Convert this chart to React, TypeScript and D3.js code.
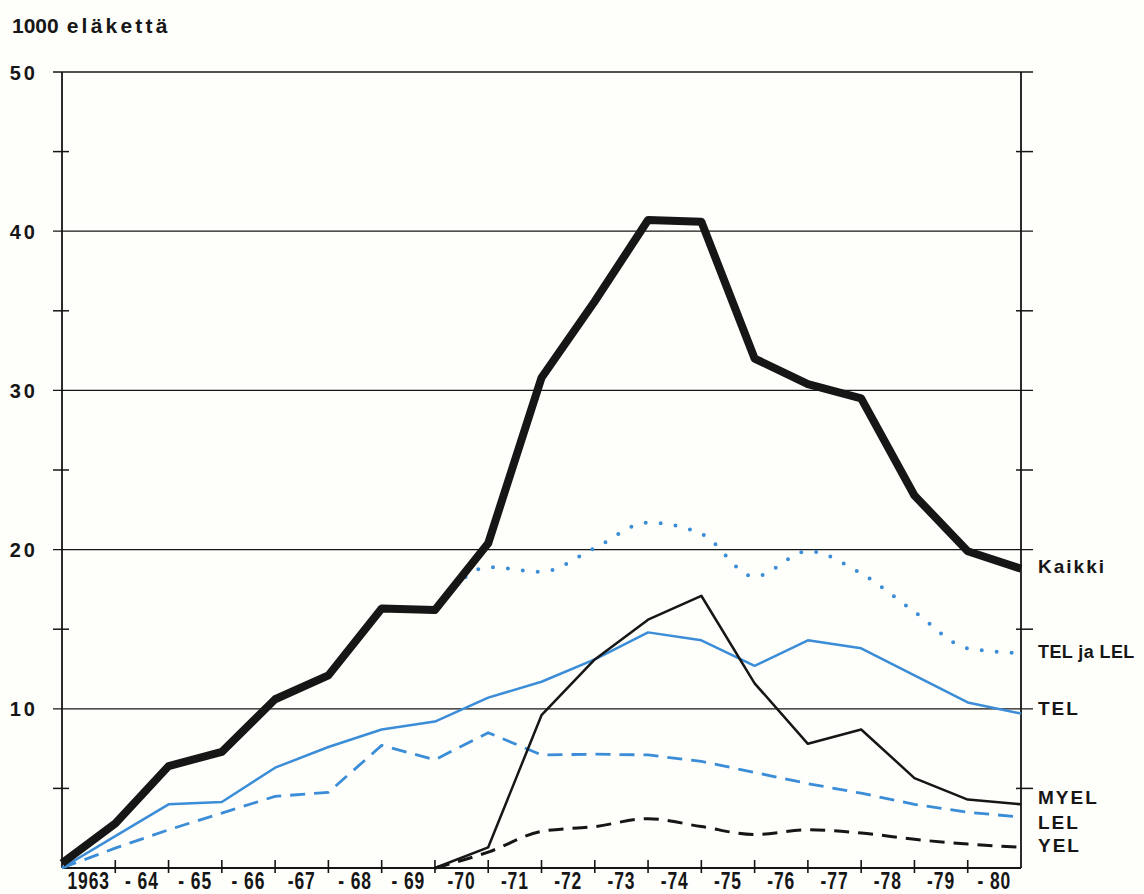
import React from "react";
import * as d3 from "d3";

const years = ["1963", "- 64", "- 65", "- 66", "-67", "- 68", "- 69", "-70", "-71", "-72", "-73", "-74", "-75", "-76", "-77", "-78", "-79", "- 80"];
const yTicks = [10, 20, 30, 40, 50];
const yMinor = [5, 15, 25, 35, 45];

// values at year boundaries (19 points), 1000 pensions
const kaikki = [0.3, 2.8, 6.4, 7.3, 10.6, 12.1, 16.3, 16.2, 20.4, 30.8, 35.6, 40.7, 40.6, 32.0, 30.4, 29.5, 23.4, 19.9, 18.8];
const telJaLel = [null, null, null, null, null, null, null, 16.2, 18.9, 18.6, 20.1, 21.7, 21.0, 18.3, 19.9, 18.5, 16.1, 13.8, 13.5];
const tel = [0, 2.0, 4.0, 4.15, 6.3, 7.6, 8.7, 9.2, 10.7, 11.7, 13.1, 14.8, 14.3, 12.7, 14.3, 13.8, 12.1, 10.4, 9.7];
const lel = [0, 1.25, 2.4, 3.45, 4.5, 4.75, 7.7, 6.8, 8.5, 7.1, 7.15, 7.1, 6.7, 6.0, 5.3, 4.7, 4.0, 3.5, 3.2];
const myel = [null, null, null, null, null, null, null, 0, 1.3, 9.6, 13.1, 15.6, 17.1, 11.6, 7.8, 8.7, 5.65, 4.3, 4.0];
const yel = [null, null, null, null, null, null, null, 0, 1.0, 2.3, 2.6, 3.1, 2.6, 2.1, 2.4, 2.2, 1.8, 1.5, 1.3];

const seriesLabels = [
  { text: "Kaikki", y: 573, ls: 2, fs: 19 },
  { text: "TEL ja LEL", y: 658, ls: 0.4, fs: 18 },
  { text: "TEL", y: 715, ls: 2, fs: 19 },
  { text: "MYEL", y: 804, ls: 2, fs: 19 },
  { text: "LEL", y: 829, ls: 2, fs: 19 },
  { text: "YEL", y: 852, ls: 2, fs: 19 },
];

const BLUE = "#3a8dd6";
const INK = "#161616";

export default function App() {
  const W = 1144, H = 894;
  const x = d3.scaleLinear().domain([0, 18]).range([62, 1021]);
  const y = d3.scaleLinear().domain([0, 50]).range([868, 72]);

  const mk = (curve: any) =>
    d3
      .line<number | null>()
      .defined((d) => d !== null)
      .x((_, i) => x(i))
      .y((d) => y(d as number))
      .curve(curve);
  const lin = mk(d3.curveLinear);
  const smooth = mk(d3.curveMonotoneX);

  const sans = "'Liberation Sans', Arial, sans-serif";

  return (
    <svg width={W} height={H} style={{ position: "absolute", left: 0, top: 0, background: "#fefefb" }}>
      <rect x={0} y={0} width={W} height={H} fill="#fefefb" />
      {/* title */}
      <text x={12} y={33} fontFamily={sans} fontWeight="bold" fontSize={21} fill={INK}>
        <tspan>1000</tspan>
        <tspan dx={8} letterSpacing={3.2}>eläkettä</tspan>
      </text>

      {/* gridlines */}
      {yTicks.map((t) => (
        <line key={"g" + t} x1={53} x2={1033} y1={y(t)} y2={y(t)} stroke={INK} strokeWidth={1.3} />
      ))}
      {yMinor.map((t) => (
        <g key={"m" + t}>
          <line x1={53} x2={69} y1={y(t)} y2={y(t)} stroke={INK} strokeWidth={1.5} />
          <line x1={1016} x2={1033} y1={y(t)} y2={y(t)} stroke={INK} strokeWidth={1.5} />
        </g>
      ))}
      {/* axes */}
      <line x1={x(0)} x2={x(0)} y1={y(50)} y2={y(0)} stroke={INK} strokeWidth={1.8} />
      <line x1={x(18)} x2={x(18)} y1={y(50)} y2={y(0)} stroke={INK} strokeWidth={1.8} />
      <line x1={x(0)} x2={x(18)} y1={y(0)} y2={y(0)} stroke={INK} strokeWidth={1.8} />
      {d3.range(1, 18).map((i) => (
        <line key={"xt" + i} x1={x(i)} x2={x(i)} y1={860} y2={873} stroke={INK} strokeWidth={1.6} />
      ))}

      {/* y labels */}
      {yTicks.map((t) => (
        <text key={"yl" + t} x={38} y={y(t) + 7.5} textAnchor="end" fontFamily={sans} fontWeight="bold" fontSize={20} letterSpacing={3} fill={INK}>
          {t}
        </text>
      ))}
      {/* x labels */}
      {years.map((s, i) => (
        <text
          key={"xl" + i}
          transform={`translate(${(x(i) + x(i + 1)) / 2},889) scale(0.76,1)`}
          textAnchor="middle"
          fontFamily={sans}
          fontWeight="bold"
          fontSize={23}
          letterSpacing={1.2}
          fill={INK}
        >
          {s}
        </text>
      ))}

      {/* series */}
      <path d={smooth(yel) || ""} fill="none" stroke={INK} strokeWidth={3} strokeDasharray="15 9" />
      <path d={lin(lel) || ""} fill="none" stroke={BLUE} strokeWidth={2.8} strokeDasharray="15 9" strokeLinejoin="round" />
      <path d={lin(tel) || ""} fill="none" stroke={BLUE} strokeWidth={2.5} strokeLinejoin="round" />
      <path d={smooth(telJaLel) || ""} fill="none" stroke={BLUE} strokeWidth={4} strokeDasharray="0 15" strokeLinecap="round" />
      <path d={lin(myel) || ""} fill="none" stroke={INK} strokeWidth={2.5} strokeLinejoin="round" />
      <path d={lin(kaikki) || ""} fill="none" stroke={INK} strokeWidth={8} strokeLinejoin="round" />

      {/* series labels */}
      {seriesLabels.map((l) => (
        <text key={l.text} x={1038} y={l.y} fontFamily={sans} fontWeight="bold" fontSize={l.fs} letterSpacing={l.ls} fill={INK}>
          {l.text}
        </text>
      ))}
    </svg>
  );
}
